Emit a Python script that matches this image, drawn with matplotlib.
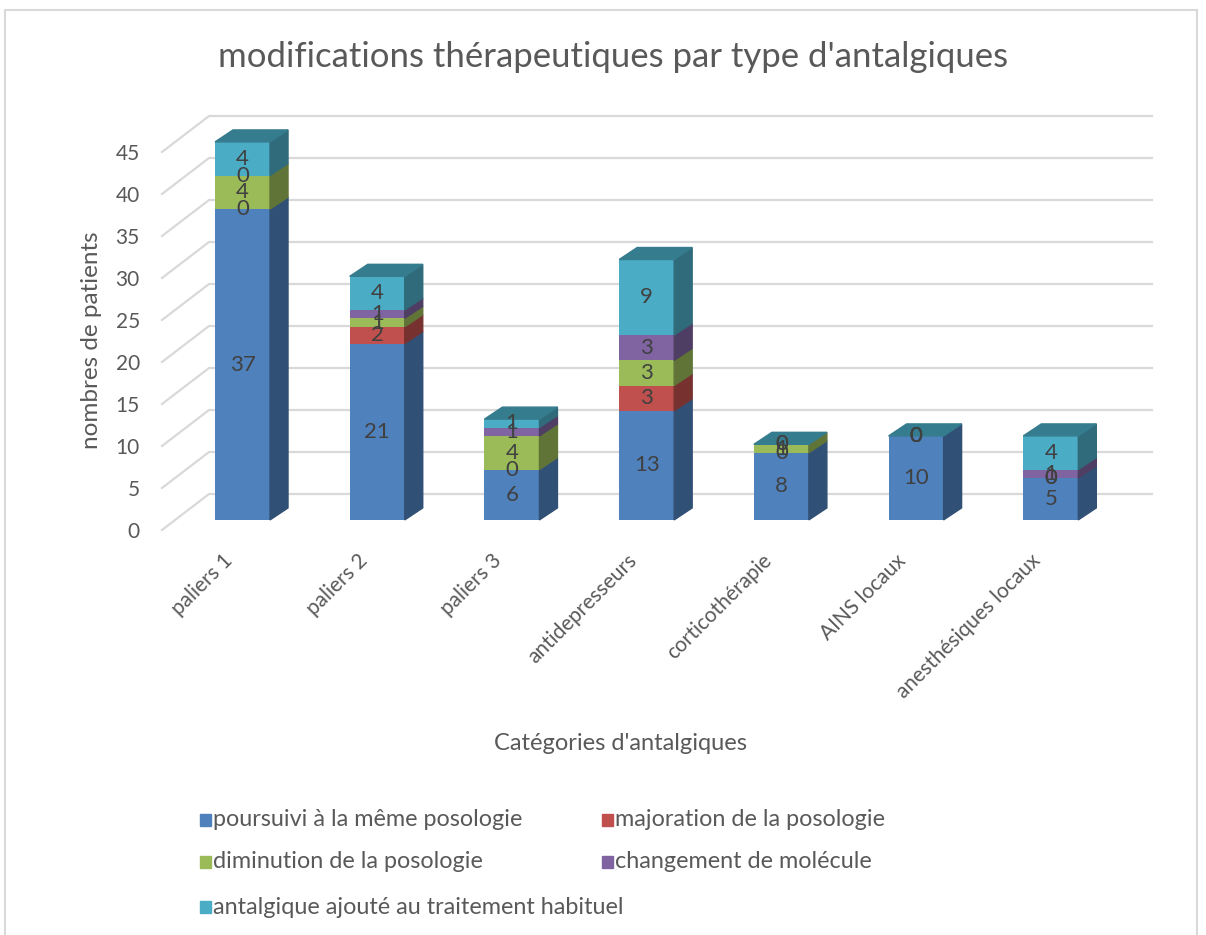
import matplotlib
matplotlib.use("Agg")
import matplotlib.pyplot as plt
from matplotlib.patches import Polygon, Rectangle
from matplotlib.colors import to_rgb

plt.rcParams['font.family'] = ['Lato', 'DejaVu Sans']

# data
categories = ["paliers 1", "paliers 2", "paliers 3", "antidepresseurs",
              "corticothérapie", "AINS locaux", "anesthésiques locaux"]
series_names = ["poursuivi à la même posologie", "majoration de la posologie",
                "diminution de la posologie", "changement de molécule",
                "antalgique ajouté au traitement habituel"]
poursuivi = [37, 21, 6, 13, 8, 10, 5]
majoration = [0, 2, 0, 3, 0, 0, 0]
diminution = [4, 1, 4, 3, 1, 0, 0]
changement = [0, 1, 1, 3, 0, 0, 1]
ajoute = [4, 4, 1, 9, 0, 0, 4]
series = [poursuivi, majoration, diminution, changement, ajoute]
colors = ["#4f81bd", "#c0504d", "#9bbb59", "#8064a2", "#4bacc6"]
yticks = list(range(0, 50, 5))

TXT = "#595959"


def shade(c, f):
    r, g, b = to_rgb(c)
    return (r * f, g * f, b * f)


W, H = 1206, 935
fig = plt.figure(figsize=(W / 100, H / 100), dpi=100)

# outer chart border
fig.add_artist(Rectangle((5 / W, -0.01), 1192 / W, 1 - 10 / H + 0.01,
                         transform=fig.transFigure, fill=False,
                         edgecolor="#d9d9d9", lw=1.5))

ax = fig.add_axes([162 / W, 405 / H, 943 / W, 420 / H])
ax.set_xlim(-0.5, 6.5)
ax.set_ylim(0, 50)
for sp in ax.spines.values():
    sp.set_visible(False)

# pseudo-3D geometry (in data units)
depth_x = 47 / 134.7
depth_y = 36 / 8.4
fz = 0.28
fx, fy = fz * depth_x, fz * depth_y
bx, by = 18 / 134.7, 12 / 8.4
w = 55 / 134.7

# floor/back wall gridlines
for v in yticks:
    ax.plot([-0.5, -0.5 + depth_x, 6.5 + depth_x], [v, v + depth_y, v + depth_y],
            color="#d9d9d9", lw=1.6, zorder=0, clip_on=False)

for i in range(len(categories)):
    cum = 0
    for s, vals in enumerate(series):
        h = vals[i]
        x0 = i + fx
        y0 = cum + fy
        if h > 0:
            ax.bar(x0, h, width=w, bottom=y0, color=colors[s], zorder=2)
            xr = x0 + w / 2
            ax.add_patch(Polygon([(xr, y0), (xr + bx, y0 + by),
                                  (xr + bx, y0 + h + by), (xr, y0 + h)],
                                 closed=True, color=shade(colors[s], 0.62),
                                 zorder=2, clip_on=False))
        ax.text(x0, y0 + h / 2, str(h), ha="center", va="center",
                fontsize=16, color="#404040", zorder=4, clip_on=False)
        cum += h
    # top face
    x0 = i + fx
    yt = cum + fy
    ax.add_patch(Polygon([(x0 - w / 2, yt), (x0 - w / 2 + bx, yt + by),
                          (x0 + w / 2 + bx, yt + by), (x0 + w / 2, yt)],
                         closed=True, color=shade(colors[-1], 0.72),
                         zorder=3, clip_on=False))

ax.set_yticks(yticks)
ax.set_yticklabels([str(v) for v in yticks], fontsize=15, color=TXT)
ax.set_xticks(range(len(categories)))
ax.set_xticklabels(categories, rotation=45, ha="right", va="center",
                   rotation_mode="anchor", fontsize=15, color=TXT)
ax.tick_params(axis="y", length=0, pad=16)
ax.tick_params(axis="x", length=0, pad=20)

fig.text(613 / W, 1 - 57 / H, "modifications thérapeutiques par type d'antalgiques",
         ha="center", va="center", fontsize=25, color=TXT)
fig.text(92 / W, 1 - 340 / H, "nombres de patients", rotation=90,
         ha="center", va="center", fontsize=17.5, color=TXT)
fig.text(620 / W, 1 - 743 / H, "Catégories d'antalgiques",
         ha="center", va="center", fontsize=17, color=TXT)

# legend laid out row by row like the original
legend_pos = [(200, 820), (602, 820), (200, 862), (602, 862), (200, 907)]
for (px, py), name, c in zip(legend_pos, series_names, colors):
    fig.add_artist(Rectangle((px / W, (H - py - 6) / H), 11 / W, 12 / H,
                             transform=fig.transFigure, color=c))
    fig.text((px + 13) / W, 1 - py / H, name, ha="left", va="center",
             fontsize=16.8, color=TXT)

fig.savefig("out.png", dpi=100)
